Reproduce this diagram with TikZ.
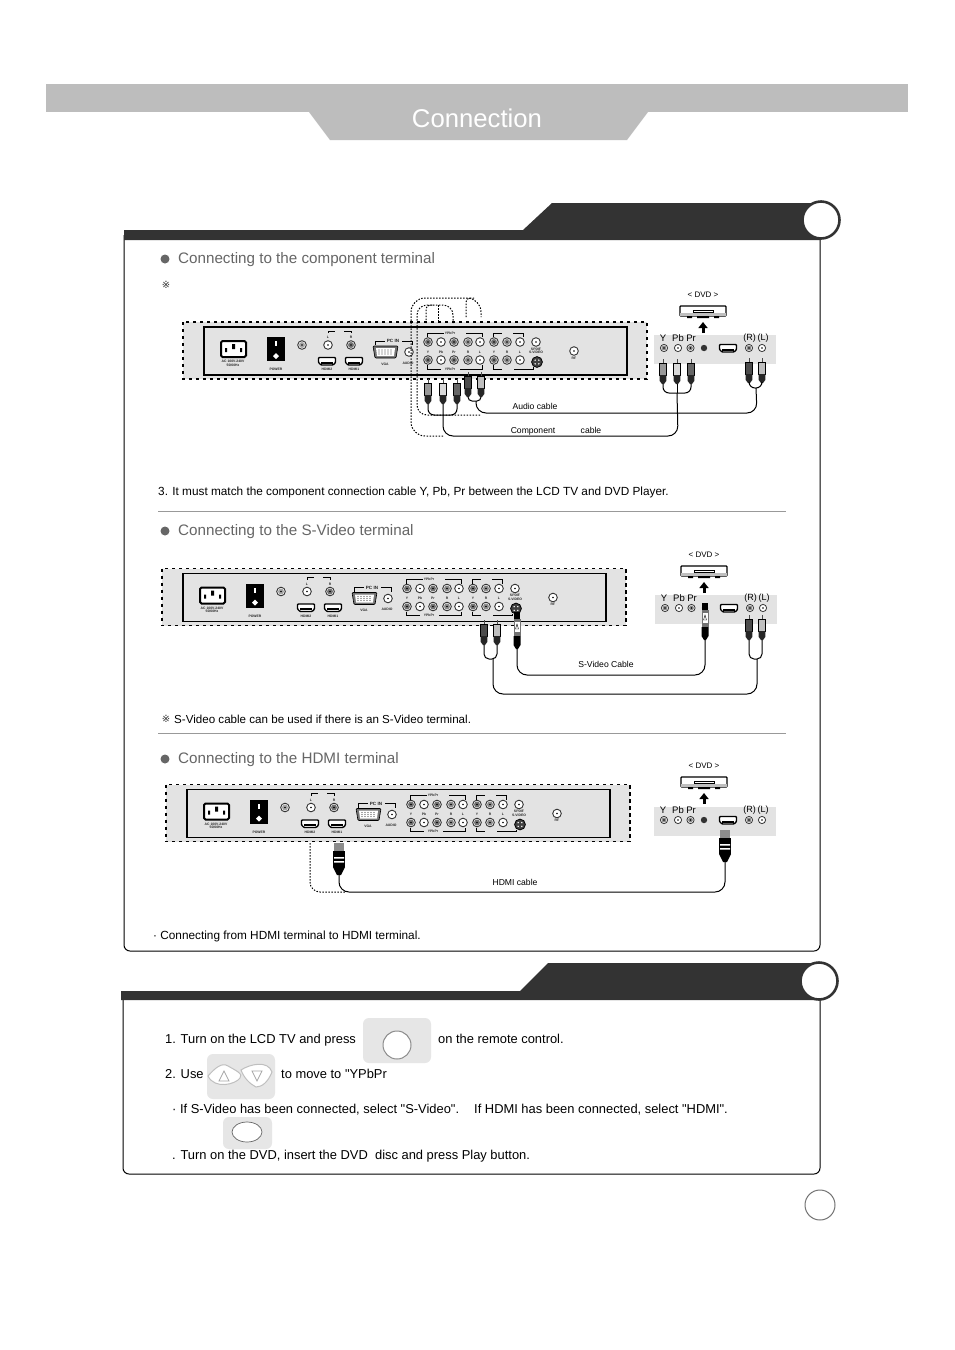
\documentclass[tikz,border=0pt]{standalone}
\usepackage{fontspec}
\setmainfont{Liberation Sans}[Ligatures=TeXOff]
\newfontfamily\symfont{DejaVu Sans}
\usetikzlibrary{shapes.geometric,arrows.meta}
\definecolor{hdrgray}{HTML}{BDBDBD}
\definecolor{dark}{HTML}{333333}
\definecolor{panelgray}{HTML}{E3E3E3}
\definecolor{btn}{HTML}{E6E6E6}
\definecolor{head}{HTML}{666666}
\newcounter{nn}
\newcommand{\fs}[1]{\fontsize{#1}{#1}\selectfont}
\newcommand{\lab}[4][]{\stepcounter{nn}\node[tinylab,#1] (t\arabic{nn}) at (#2,#3) {#4};}
\newcommand{\jack}[3]{\draw[line width=.9pt,draw=black!80,fill=white] (#1,#2) circle (4.3pt);\fill[#3] (#1,#2) circle (3pt);\fill[black] (#1,#2) circle (.9pt);}
\newcommand{\sjack}[3]{\draw[line width=.8pt,draw=black!80,fill=white] (#1,#2) circle (3.6pt);\fill[#3] (#1,#2) circle (2.4pt);\fill[black] (#1,#2) circle (.8pt);}
\newcommand{\hdmi}[2]{\draw[line width=1.4pt,fill=white,rounded corners=.8pt] (#1-8.5,#2-3.5)--(#1+8.5,#2-3.5)--(#1+8.5,#2+1.5)--(#1+6,#2+4)--(#1-6,#2+4)--(#1-8.5,#2+1.5)--cycle;\fill (#1-6,#2+.5) rectangle (#1+6,#2+2.5);}
\newcommand{\brk}[3]{\draw[line width=.6pt] #1 -- #2 -- #3;}
% the back panel of the TV, drawn in the coordinates of the first panel
\newcommand{\tvpanel}[3]{%
\begin{scope}[shift={(#1,#2)},name prefix=#3-]
\fill[panelgray] (183,322) rectangle (647,379);
\draw[line width=1.3pt,dash pattern=on 3.2pt off 3.8pt] (183,322) rectangle (647,379);
\draw[line width=1.6pt,fill=panelgray] (204,327) rectangle (627,375);
% mains
\draw[line width=2pt,fill=white,rounded corners=1.5pt] (221,341) rectangle (246,357);
\fill (225,348) rectangle (227,352) (232,344) rectangle (235,349) (240,348) rectangle (242,352);
\lab{233}{361.5}{AC 100V-240V}\lab{233}{365}{50/60Hz}
% switch
\fill (267,337) rectangle (285,361);
\fill[white] (275,341) rectangle (277,346);
\fill[white] (276,353) -- (279,356) -- (276,359) -- (273,356) -- cycle;
\lab{276}{369.5}{POWER}
\jack{302}{345}{black!35}\jack{328}{345}{white}\jack{351}{345}{black!55}
\lab{328}{337.5}{L}\lab{351}{337.5}{R}
\brk{(328,333)}{(328,331)}{(335,331)}\brk{(344,331)}{(351,331)}{(351,333)}
\hdmi{327}{361}\hdmi{354}{361}
\lab{327}{369.5}{HDMI2}\lab{354}{369.5}{HDMI1}
% VGA
\draw[line width=.6pt,fill=black!55,rounded corners=1pt] (373,346) -- (398,346) -- (396,358) -- (375,358) -- cycle;
\fill[white] (376,348) -- (395,348) -- (394,356) -- (377,356) -- cycle;
\foreach \yy in {350,352,354} \foreach \xx in {379,382,...,392} \fill[black!70] (\xx,\yy) circle (.55pt);
\lab[font=\fs{4.6}\bfseries]{393}{341}{PC IN}
\brk{(375,345)}{(375,341)}{(385,341)}\brk{(402,341)}{(412,341)}{(412,345)}
\lab{385}{364}{VGA}
\jack{409}{352}{white}\lab{408}{363}{AUDIO}
% YPbPr block
\foreach \xx/\cc in {428/black!55,441/white,454/black!55,468/black!45,480/white,494/black!55,507/black!45,520/white}{
 \jack{\xx}{342}{\cc}\jack{\xx}{360}{\cc}}
\foreach \xx/\lb in {428/Y,441/Pb,454/Pr,468/R,480/L,494/Y,507/R,520/L}{\lab{\xx}{352}{\lb}}
\jack{536}{342}{white}
\lab{536}{349}{SPDIF}\lab{536}{352.5}{S-VIDEO}
\draw[line width=.8pt,fill=black!75] (537,362) circle (5.4pt);
\foreach \ang in {45,135,225,315} \fill[white] (537,362)++(\ang:2.6pt) circle (.8pt);
\lab{450}{333}{YPbPr}\lab{450}{369}{YPbPr}
\brk{(427,337)}{(427,333)}{(444,333)}\brk{(466,333)}{(482,333)}{(482,337)}
\brk{(427,365)}{(427,369)}{(441,369)}\brk{(460,369)}{(482,369)}{(482,365)}
\brk{(493,337)}{(493,333)}{(502,333)}\brk{(513,333)}{(523,333)}{(523,337)}
\brk{(493,365)}{(493,369)}{(502,369)}\brk{(514,369)}{(533,369)}{(533,367)}
\jack{574}{351}{white}\lab{574}{358}{RF}
\end{scope}}
% the DVD player with its arrow and its socket strip
\newcommand{\dvd}[5]{%
\begin{scope}[name prefix=#1-]
\stepcounter{nn}\node[capt,font=\fs{8}] (t\arabic{nn}) at (#2,#3) {< DVD >};
\draw[line width=1.2pt,fill=white,rounded corners=.8pt] (#2-23,#3+11) -- (#2+23,#3+11) -- (#2+23,#3+21) -- (#2-23,#3+21) -- cycle;
\fill[black!25] (#2-23,#3+18) rectangle (#2+23,#3+21);
\draw[line width=.7pt] (#2-10,#3+15) rectangle (#2+10,#3+17.5);
\fill (#2-16,#3+21) rectangle (#2-11,#3+23) (#2+11,#3+21) rectangle (#2+16,#3+23) (#2-6,#3+21) rectangle (#2+6,#3+23);
\draw[-{Triangle[width=9pt,length=6pt]},line width=3pt] (#2,#3+38) -- (#2,#3+27);
\fill[panelgray] (#4,#5) rectangle (#4+122,#5+29);
\stepcounter{nn}\node[capt,font=\fs{9.5}] (t\arabic{nn}) at (#4+9,#5+3) {Y};
\stepcounter{nn}\node[capt,font=\fs{9.5}] (t\arabic{nn}) at (#4+24,#5+3) {Pb};
\stepcounter{nn}\node[capt,font=\fs{9.5}] (t\arabic{nn}) at (#4+37,#5+3) {Pr};
\stepcounter{nn}\node[capt,font=\fs{9}] (t\arabic{nn}) at (#4+95.5,#5+3) {(R)};
\stepcounter{nn}\node[capt,font=\fs{9}] (t\arabic{nn}) at (#4+109,#5+3) {(L)};
\sjack{#4+10}{#5+13}{black!45}\sjack{#4+24}{#5+13}{white}\sjack{#4+36.5}{#5+13}{black!45}
\fill[black!80] (#4+50,#5+13) circle (3.2pt);
\hdmi{#4+74}{#5+13}
\sjack{#4+95}{#5+13}{black!45}\sjack{#4+108}{#5+13}{white}
\end{scope}}
\tikzset{
 tinylab/.style={inner sep=0pt,font=\fs{3.4}\bfseries,text=black!85},
 capt/.style={inner sep=0pt,text=black},
 txt/.style={inner sep=0pt,anchor=base west,font=\fs{11.8},text=black},
 steptxt/.style={inner sep=0pt,anchor=base west,font=\fs{12.9},text=black},
 caplab/.style={inner sep=0pt,anchor=base,font=\fs{8.6},text=black},
 heading/.style={inner sep=0pt,anchor=base west,font=\fs{15.2},text=head},
 cable/.style={line width=1pt,rounded corners=10pt},
 dots/.style={line width=1pt,dash pattern=on 1.5pt off 1.5pt,rounded corners=10pt},
 pics/rca/.style={code={
  \draw[line width=1pt,black!70] (0,0) -- (0,4);
  \fill[#1] (-3.3,4) rectangle (3.3,16);
  \draw[line width=.5pt] (-3.3,4) rectangle (3.3,16);
  \fill[black!85] (-3.3,16) -- (3.3,16) -- (3.3,22) -- (1,25) -- (-1,25) -- (-3.3,22) -- cycle;
  \coordinate (-end) at (0,25);
 }},
 pics/svid/.style={code={
  \fill[black] (-3,0) rectangle (3,7);
  \fill[black!55] (-3.5,7) rectangle (3.5,24);
  \fill[white] (-2.5,10) rectangle (2.5,20);
  \draw[line width=.4pt] (0,12) -- (1.5,17) -- (-1.5,17) -- cycle;
  \fill[black] (-3.5,24) -- (3.5,24) -- (3.5,33) -- (1,37) -- (-1,37) -- (-3.5,33) -- cycle;
  \coordinate (-end) at (0,37);
 }},
 pics/hdmiplug/.style={code={
  \fill[black!45] (-5,0) rectangle (5,8);
  \fill[black] (-6,8) rectangle (6,24);
  \fill[white] (-5,14) rectangle (5,15.5) (-5,18) rectangle (5,19.5);
  \fill[black] (-6,24) -- (6,24) -- (2,32) -- (-2,32) -- cycle;
  \coordinate (-end) at (0,32);
 }},
}
\begin{document}
\begin{tikzpicture}[x=1pt,y=-1pt]
\useasboundingbox (0,0) rectangle (954,1350);
\fill[white] (0,0) rectangle (954,1350);
% title band
\fill[hdrgray] (46,84) rectangle (908,112);
\fill[hdrgray] (309,112) -- (648,112) -- (627,140) -- (330,140) -- cycle;
\node[inner sep=0pt,text=white,font=\fs{25.7}] (title) at (477,118) {Connection};
% first frame
\draw[line width=1pt,rounded corners=6pt] (124,235) -- (124,951) -- (820,951) -- (820,235);
\fill[dark] (124,230) -- (523,230) -- (552,203) -- (820,203) -- (820,240) -- (124,240) -- cycle;
\draw[line width=2.6pt,draw=dark,fill=white] (821,220) circle (18.5pt);
% second frame
\draw[line width=1pt,rounded corners=6pt] (123,995) -- (123,1174) -- (820,1174) -- (820,995);
\fill[dark] (121,991) -- (520,991) -- (548,963) -- (820,963) -- (820,1000) -- (121,1000) -- cycle;
\draw[line width=2.6pt,draw=dark,fill=white] (819,981) circle (18.5pt);
% page number disc
\draw[line width=1pt,draw=black!55,fill=white] (820,1205) circle (15pt);
% headings
\fill[head] (165,259) circle (4.5pt);
\node[heading] (h1) at (178,263) {Connecting to the component terminal};
\fill[head] (165,531) circle (4.5pt);
\node[heading] (h2) at (178,535) {Connecting to the S-Video terminal};
\fill[head] (165,759) circle (4.5pt);
\node[heading] (h3) at (178,763) {Connecting to the HDMI terminal};
\node[inner sep=0pt,font=\symfont\fs{10},text=black!80] (mark1) at (166,285) {※};
\node[txt] (n1) at (158,495) {3. It must match the component connection cable Y, Pb, Pr between the LCD TV and DVD Player.};
\node[inner sep=0pt,font=\symfont\fs{10},text=black!80] (mark2) at (166,719) {※};
\node[txt,font=\fs{11.6}] (n2) at (174,723) {S-Video cable can be used if there is an S-Video terminal.};
\node[txt] (n3) at (153,939) {· Connecting from HDMI terminal to HDMI terminal.};
\draw[line width=1pt,black!40] (158,511) -- (786,511);
\draw[line width=1pt,black!40] (158,733) -- (786,733);
% panels
\tvpanel{0}{0}{pa}
\tvpanel{-21}{246.5}{pb}
\tvpanel{-17}{462.5}{pc}
\dvd{da}{703}{295}{654}{335}
\dvd{db}{704}{555}{655}{595}
\dvd{dc}{704}{766}{654}{807}
% --- component connection ---
\coordinate (dotA) at (443,436);
\draw[dots,rounded corners=14pt] (dotA) -- (411,436) -- (411,298) -- (481,298) -- (481,317);
\draw[dots,rounded corners=4pt] (466,317) -- (466,298) -- (474,298);
\draw[dots] (480,415) -- (417,415) -- (417,305) -- (453,305) -- (453,323);
\draw[dots,rounded corners=4pt] (426,323) -- (426,305) -- (434,305);
\draw[dots,rounded corners=0pt] (438,305) -- (438,323);
\pic (ca1) at (428,379) {rca=black!40};
\pic (ca2) at (443,379) {rca=black!15};
\pic (ca3) at (457,379) {rca=black!60};
\pic (ca4) at (468,372) {rca=black!70};
\pic (ca5) at (481,372) {rca=black!25};
\pic (cb1) at (663,359) {rca=black!40};
\pic (cb2) at (677,359) {rca=black!15};
\pic (cb3) at (691,359) {rca=black!60};
\pic (cb4) at (749,358) {rca=black!70};
\pic (cb5) at (762,358) {rca=black!25};
\coordinate (fa1) at (443,415);
\coordinate (fa2) at (476,401);
\coordinate (fb1) at (677,393);
\coordinate (fb2) at (756,388);
\draw[cable,rounded corners=6pt] (ca1-end) -- (428,415) -- (fa1) -- (457,415) -- (ca3-end);
\draw[cable] (ca2-end) -- (443,436) -- (678,436) -- (fb1);
\draw[cable,rounded corners=4pt] (ca4-end) -- (468,401) -- (481,401) -- (ca5-end);
\draw[cable] (fa2) -- (476,413) -- (757,413) -- (fb2);
\draw[cable,rounded corners=6pt] (cb1-end) -- (663,393) -- (691,393) -- (cb3-end);
\draw[cable,rounded corners=0pt] (cb2-end) -- (fb1);
\draw[cable,rounded corners=6pt] (cb4-end) -- (749,388) -- (762,388) -- (cb5-end);
\node[caplab] (audio) at (535,409) {Audio cable};
\node[caplab] (comp) at (533,433) {Component};
\node[caplab] (compb) at (591,433) {cable};
% --- S-Video connection ---
\pic (sa1) at (484,620) {rca=black!70};
\pic (sa2) at (497,620) {rca=black!25};
\pic (sv1) at (517,612) {svid};
\pic (sb1) at (749,615) {rca=black!70};
\pic (sb2) at (762,615) {rca=black!25};
\pic (sv2) at (705,603) {svid};
\draw[cable,rounded corners=5pt] (sa1-end) -- (484,659) -- (497,659) -- (sa2-end);
\draw[cable,rounded corners=5pt] (sb1-end) -- (749,659) -- (762,659) -- (sb2-end);
\draw[cable] (493,659) -- (493,694) -- (757,694) -- (757,659);
\draw[cable] (sv1-end) -- (517,675) -- (705,675) -- (sv2-end);
\node[caplab] (scable) at (606,667) {S-Video Cable};
% --- HDMI connection ---
\pic (ha) at (339,843) {hdmiplug};
\pic (hb) at (725,830) {hdmiplug};
\draw[cable] (ha-end) -- (339,892) -- (725,892) -- (hb-end);
\draw[dots] (310,843) -- (310,892) -- (345,892);
\node[caplab] (hcable) at (515,885) {HDMI cable};
% --- steps ---
\node[steptxt] (s1) at (165,1043.5) {1. Turn on the LCD TV and press};
\fill[btn,rounded corners=6pt] (363,1018) rectangle (431,1063);
\draw[line width=1pt,draw=black!45,fill=white] (397,1045) circle (14pt);
\node[steptxt] (s1b) at (438,1043.5) {on the remote control.};
\node[steptxt] (s2) at (165,1078.5) {2. Use};
\fill[btn,rounded corners=6pt] (207,1054) rectangle (275,1099);
\draw[line width=1pt,draw=black!25,fill=white] (208,1076) .. controls (215,1068) and (222,1062) .. (228,1066) .. controls (235,1070) and (244,1074) .. (240,1078) .. controls (236,1084) and (215,1090) .. (208,1076) -- cycle;
\draw[line width=1pt,draw=black!25,fill=white] (241,1070) .. controls (250,1064) and (268,1060) .. (272,1072) .. controls (268,1082) and (262,1087) .. (256,1087) .. controls (250,1084) and (244,1078) .. (241,1070) -- cycle;
\draw[line width=.8pt,draw=black!35] (224,1071) -- (229,1081) -- (219,1081) -- cycle;
\draw[line width=.8pt,draw=black!35] (252,1071) -- (262,1071) -- (257,1081) -- cycle;
\node[steptxt] (s2b) at (281,1078.5) {to move to "YPbPr};
\node[steptxt] (s3) at (172,1113.5) {· If S-Video has been connected, select "S-Video".};
\node[steptxt] (s3b) at (474,1113.5) {If HDMI has been connected, select "HDMI".};
\fill[btn,rounded corners=6pt] (223,1117) rectangle (272,1149);
\draw[line width=.7pt,draw=black!60,fill=white] (247,1132) ellipse (15pt and 10pt);
\node[steptxt] (s4) at (172,1159.5) {. Turn on the DVD, insert the DVD\ \ disc and press Play button.};
\end{tikzpicture}
\end{document}
